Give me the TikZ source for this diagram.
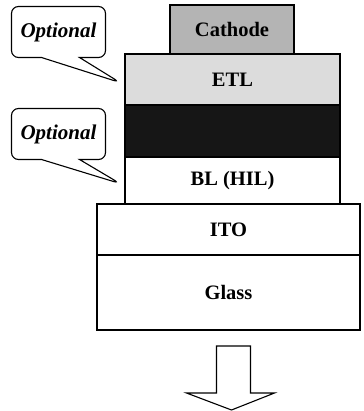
\documentclass[tikz,border=0pt]{standalone}
\usepackage{fontspec}
\setmainfont{Liberation Serif}
\usetikzlibrary{calc,positioning,shapes.callouts}
\definecolor{cathodegray}{HTML}{B4B4B4}
\definecolor{etlgray}{HTML}{DCDCDC}
\definecolor{emlblack}{HTML}{161616}

\begin{document}
\begin{tikzpicture}[
  x=1pt,
  y=-1pt,
  layer/.style={
    draw=black,
    fill=white,
    line width=1.1pt,
    outer sep=0pt,
    inner sep=0pt,
    align=center,
    font=\fontsize{20.5}{23}\selectfont\bfseries
  },
  optnote/.style={
    rectangle callout,
    draw=black,
    fill=white,
    line width=1.1pt,
    rounded corners=7pt,
    minimum width=94pt,
    minimum height=51pt,
    callout pointer width=38pt,
    inner sep=0pt,
    font=\fontsize{21}{24}\selectfont\bfseries\itshape
  }
]
\useasboundingbox (0,0) rectangle (363,411);

\node[layer,fill=etlgray,minimum width=215pt,minimum height=51pt] (etl) at (232.5,79.5) {ETL};
\node[layer,fill=cathodegray,minimum width=124pt,minimum height=49pt,above=0pt of etl,xshift=-0.5pt] (cathode) {Cathode};
\node[layer,fill=emlblack,minimum width=215pt,minimum height=52pt,below=0pt of etl] (eml) {};
\node[layer,minimum width=215pt,minimum height=47pt,below=0pt of eml] (bl) {BL (HIL)};
\node[layer,minimum width=263pt,minimum height=51pt,below=0pt of bl,xshift=-4pt] (ito) {ITO};
\node[layer,minimum width=263pt,minimum height=75pt,below=0pt of ito] (glass) {Glass};

% the two optional layers
\node[optnote,callout absolute pointer={($(etl.west)+(-5,3)$)}] (optetl) at (58.5,32) {Optional};
\node[optnote,callout absolute pointer={($(bl.west)+(-5,3)$)}] (optbl) at (58.5,134) {Optional};

% light leaves through the glass
\coordinate (emission) at ($(glass.south)+(5,16)$);
\draw[line width=1.1pt,line join=miter]
  ($(emission)+(-17,0)$) -- ++(34,0) -- ++(0,47) -- ++(24,0)
  -- ($(emission)+(-2,64)$) -- ($(emission)+(-47,47)$) -- ++(30,0) -- cycle;

\end{tikzpicture}
\end{document}
